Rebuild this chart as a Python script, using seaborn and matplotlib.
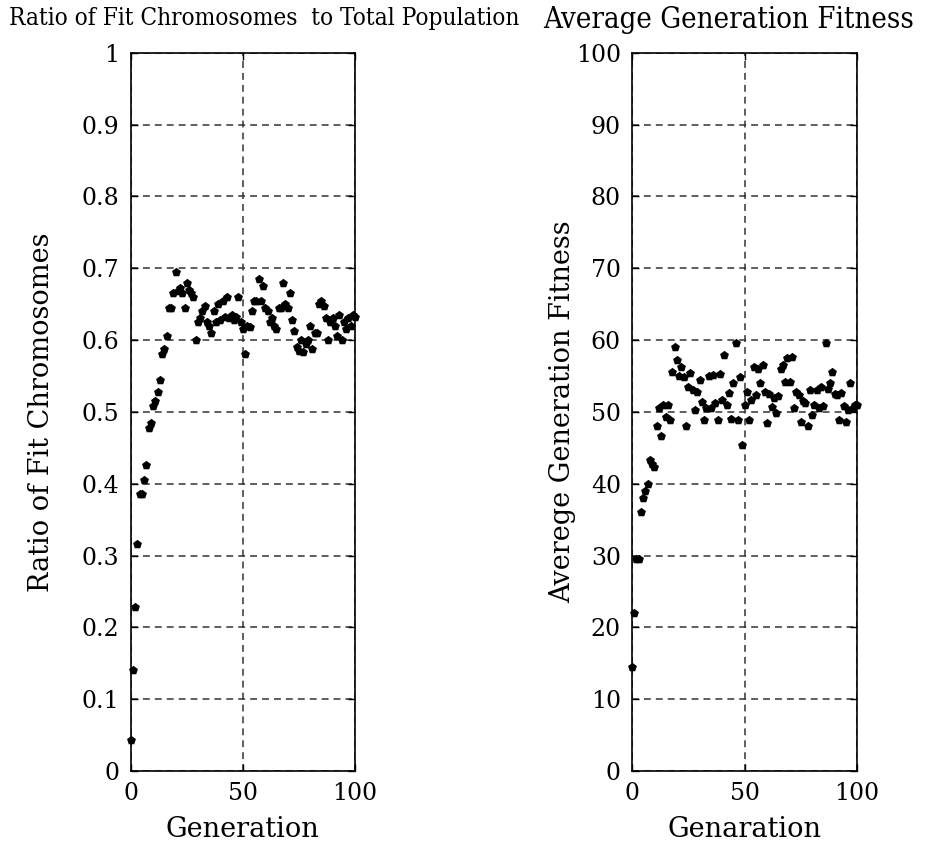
import matplotlib
matplotlib.use("Agg")
import matplotlib.pyplot as plt
import seaborn as sns
import numpy as np
import pandas as pd

generations = list(range(0, 101))

fit_ratio = [
    0.043, 0.140, 0.228, 0.316, 0.385, 0.385, 0.405, 0.426, 0.478, 0.485,
    0.508, 0.515, 0.527, 0.545, 0.580, 0.588, 0.605, 0.645, 0.645, 0.665,
    0.695, 0.668, 0.672, 0.665, 0.645, 0.680, 0.670, 0.665, 0.660, 0.600,
    0.625, 0.630, 0.640, 0.648, 0.625, 0.620, 0.610, 0.640, 0.625, 0.650,
    0.628, 0.655, 0.632, 0.660, 0.630, 0.635, 0.628, 0.632, 0.660, 0.625,
    0.615, 0.580, 0.620, 0.618, 0.640, 0.655, 0.655, 0.685, 0.655, 0.675,
    0.645, 0.640, 0.625, 0.630, 0.620, 0.615, 0.645, 0.645, 0.680, 0.650,
    0.645, 0.665, 0.628, 0.612, 0.590, 0.585, 0.600, 0.583, 0.595, 0.600,
    0.620, 0.588, 0.610, 0.610, 0.650, 0.655, 0.648, 0.630, 0.600, 0.625,
    0.630, 0.620, 0.605, 0.635, 0.600, 0.625, 0.615, 0.630, 0.620, 0.635,
    0.632,
]

avg_fitness = [
    14.5, 22.0, 29.5, 29.5, 36.0, 38.0, 39.0, 40.0, 43.3, 42.8,
    42.3, 48.0, 50.5, 46.6, 51.0, 49.3, 51.0, 48.9, 55.5, 59.0,
    57.2, 55.0, 56.3, 54.9, 48.0, 53.5, 55.4, 53.0, 50.3, 52.8,
    54.4, 51.4, 48.9, 50.6, 55.0, 50.5, 55.2, 51.2, 48.9, 55.3,
    51.6, 57.9, 51.0, 52.6, 49.0, 54.0, 59.6, 48.9, 54.9, 45.4,
    51.0, 52.8, 48.9, 51.6, 56.2, 52.4, 56.0, 54.0, 56.5, 52.8,
    48.4, 52.5, 50.7, 52.0, 49.9, 52.2, 55.9, 56.5, 54.2, 57.5,
    54.2, 57.7, 50.6, 52.8, 52.4, 48.6, 51.5, 51.3, 48.0, 53.0,
    49.6, 51.0, 53.0, 50.6, 53.4, 50.8, 59.6, 53.2, 54.0, 55.6,
    52.5, 52.3, 48.9, 52.6, 50.8, 48.6, 50.3, 54.0, 50.5, 51.0,
    51.0,
]

x_ticks = [0, 50, 100]
x_tick_labels = ["0", "50", "100"]
left_y_ticks = [0, 0.1, 0.2, 0.3, 0.4, 0.5, 0.6, 0.7, 0.8, 0.9, 1.0]
left_y_labels = ["0", "0.1", "0.2", "0.3", "0.4", "0.5", "0.6", "0.7", "0.8", "0.9", "1"]
right_y_ticks = [0, 10, 20, 30, 40, 50, 60, 70, 80, 90, 100]
right_y_labels = ["0", "10", "20", "30", "40", "50", "60", "70", "80", "90", "100"]

left_title = "Ratio of Fit Chromosomes  to Total Population"
right_title = "Average Generation Fitness"
left_xlabel = "Generation"
right_xlabel = "Genaration"
left_ylabel = "Ratio of Fit Chromosomes"
right_ylabel = "Averege Generation Fitness"

sns.set_theme(style="white")
plt.rcParams["font.family"] = ["DejaVu Serif", "DejaVu Sans"]

df_left = pd.DataFrame({"gen": generations, "val": fit_ratio})
df_right = pd.DataFrame({"gen": generations, "val": avg_fitness})

fig = plt.figure(figsize=(9.26, 8.5), dpi=100)
ax1 = fig.add_axes([0.1411, 0.0929, 0.2423, 0.8451])
ax2 = fig.add_axes([0.6825, 0.0929, 0.2430, 0.8451])

tick_fs = 17
label_fs = 19.5

def style(ax, yticks, ylabels, ylim, xlabel, ylabel, ylpad):
    ax.set_xlim(0, 100)
    ax.set_ylim(*ylim)
    ax.set_xticks(x_ticks)
    ax.set_xticklabels(x_tick_labels, fontsize=tick_fs)
    ax.set_yticks(yticks)
    ax.set_yticklabels(ylabels, fontsize=tick_fs)
    ax.grid(True, color="#333333", linestyle=(0, (4.5, 3.3)), linewidth=1.1)
    for sp in ax.spines.values():
        sp.set_visible(True)
        sp.set_color("black")
        sp.set_linewidth(1.2)
    ax.tick_params(direction="in", length=5, width=1, colors="black",
                   top=True, right=True, left=True, bottom=True, pad=8)
    ax.set_xlabel(xlabel, fontsize=label_fs, color="black", labelpad=8)
    ax.set_ylabel(ylabel, fontsize=label_fs, color="black", labelpad=ylpad)
    ax.set_facecolor("white")

sns.scatterplot(data=df_left, x="gen", y="val", ax=ax1, color="black",
                marker="p", s=45, linewidth=0, clip_on=False, zorder=3)
sns.scatterplot(data=df_right, x="gen", y="val", ax=ax2, color="black",
                marker="p", s=45, linewidth=0, clip_on=False, zorder=3)

style(ax1, left_y_ticks, left_y_labels, (0, 1), left_xlabel, left_ylabel, 19)
style(ax2, right_y_ticks, right_y_labels, (0, 100), right_xlabel, right_ylabel, 0)

fig.text(264 / 926, 1 - 19 / 850, left_title, ha="center", va="center",
         fontsize=17.5, family="DejaVu Serif", fontstretch="condensed", color="black")
fig.text(729 / 926, 1 - 20 / 850, right_title, ha="center", va="center",
         fontsize=21, family="DejaVu Serif", fontstretch="condensed", color="black")

fig.savefig("out.png", dpi=100, facecolor="white")
